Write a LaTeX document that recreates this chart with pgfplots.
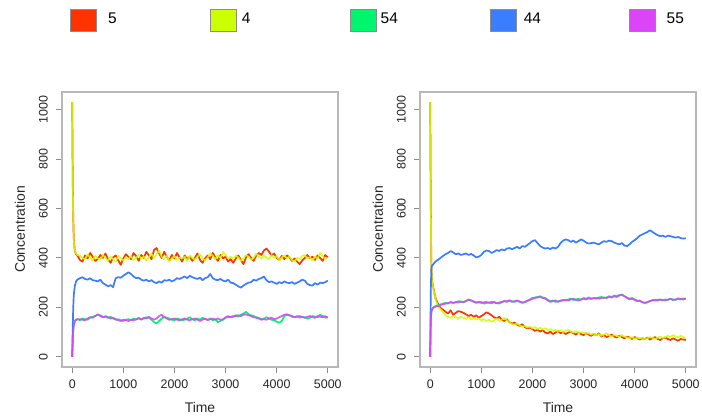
\documentclass[border=0pt]{standalone}
\usepackage{fontspec}
\setmainfont{Liberation Sans}
\usepackage{pgfplots}
\usepackage{pgfplotstable}
\pgfplotsset{compat=1.18}
\definecolor{cR}{HTML}{FF3300}
\definecolor{cY}{HTML}{CCFF00}
\definecolor{cG}{HTML}{00F56E}
\definecolor{cB}{HTML}{3A7DFF}
\definecolor{cM}{HTML}{DA45F8}
\definecolor{boxgray}{HTML}{B8B8B8}
\definecolor{tickgray}{HTML}{8C8C8C}

\pgfplotstableread{
t r y g b m
0 1030 1030 0 0 0
10 720 700 70 120 65
20 560 550 110 200 105
30 480 475 130 250 128
50 430 432 145 285 143
75 415 418 150 305 150
100 410 412 152 312 152
150 392 410 148 318 152
200 385 400 155 322 150
250 410 395 152 315 148
300 398 415 150 312 155
350 420 402 158 318 160
400 405 390 162 310 158
450 388 408 165 308 165
500 395 398 170 305 172
550 412 392 168 312 165
600 400 412 162 298 160
650 418 400 160 292 165
700 395 388 158 285 160
750 380 405 162 290 155
800 402 395 155 282 158
850 410 385 150 318 152
900 390 410 152 322 148
950 372 398 148 320 145
1000 398 390 145 328 150
1050 415 402 150 335 148
1100 404 395 152 342 145
1150 395 408 148 335 150
1200 420 392 155 325 148
1250 408 400 150 318 152
1300 388 412 158 320 155
1350 412 398 152 312 150
1400 400 405 155 308 158
1450 425 390 160 312 155
1500 410 402 158 305 162
1550 395 418 150 310 155
1600 432 400 140 302 150
1650 440 415 135 298 155
1700 418 430 145 305 165
1750 400 405 155 300 170
1800 425 395 162 310 160
1850 405 410 158 308 155
1900 390 385 155 312 150
1950 412 398 150 305 152
2000 398 408 148 310 155
2050 420 392 155 318 150
2100 402 402 152 315 148
2150 385 398 148 320 152
2200 410 405 150 325 155
2250 395 388 155 318 150
2300 405 410 160 328 148
2350 388 400 152 322 152
2400 400 392 148 318 155
2450 418 405 155 315 150
2500 392 415 150 320 145
2550 380 398 158 310 150
2600 398 390 152 318 155
2650 410 402 150 322 148
2700 395 418 155 335 152
2750 420 408 148 318 155
2800 402 395 152 312 150
2850 388 410 140 310 155
2900 412 400 145 315 150
2950 398 425 150 308 152
3000 405 412 158 305 160
3050 385 398 160 312 165
3100 395 405 162 300 160
3150 380 395 165 298 162
3200 398 410 168 292 165
3250 410 402 162 285 168
3300 392 388 170 280 165
3350 375 398 175 288 170
3400 402 412 182 295 172
3450 415 405 172 300 168
3500 400 392 168 302 165
3550 388 400 165 312 160
3600 410 418 160 308 158
3650 420 405 158 315 155
3700 412 398 152 318 150
3750 430 410 155 325 152
3800 438 402 160 310 150
3850 425 395 155 302 155
3900 410 412 150 305 158
3950 418 400 148 300 152
4000 400 408 142 295 155
4050 392 390 138 302 160
4100 408 402 145 298 165
4150 395 410 165 305 170
4200 410 398 170 300 172
4250 402 405 168 298 168
4300 388 392 162 302 165
4350 398 385 160 295 160
4400 385 400 165 300 162
4450 375 395 158 305 165
4500 390 408 162 312 160
4550 400 412 160 308 158
4600 412 398 155 295 162
4650 398 402 158 290 165
4700 405 390 165 288 160
4750 392 405 162 298 158
4800 410 398 160 292 165
4850 400 420 170 300 162
4900 388 408 165 298 160
4950 412 395 158 302 165
5000 402 400 160 308 158
}\leftdata

\pgfplotstableread{
t r y g b m
0 1030 1030 0 0 0
10 650 640 150 250 145
20 400 390 180 350 175
30 320 315 190 368 188
50 290 285 198 372 196
75 265 262 202 378 200
100 240 238 205 385 203
150 215 205 208 392 205
200 198 192 212 400 210
250 190 180 215 408 212
300 182 168 218 415 215
350 175 162 215 420 218
400 188 158 222 428 220
450 170 165 218 422 218
500 178 160 220 415 222
550 185 155 225 418 220
600 182 162 222 412 224
650 178 158 220 415 222
700 172 155 225 418 226
750 165 160 230 412 232
800 170 152 228 416 228
850 162 158 222 410 224
900 168 150 218 402 220
950 158 155 220 405 222
1000 165 148 222 412 218
1050 172 152 215 425 220
1100 180 145 218 430 222
1150 175 150 220 428 218
1200 168 142 216 420 222
1250 160 148 222 425 220
1300 155 155 218 432 216
1350 162 145 215 428 220
1400 150 150 220 435 222
1450 145 158 225 430 226
1500 152 148 222 438 224
1550 140 140 228 440 228
1600 135 132 225 435 222
1650 138 130 222 440 225
1700 130 135 226 445 228
1750 125 128 222 438 224
1800 132 122 218 448 220
1850 120 125 220 445 222
1900 115 118 225 452 228
1950 118 122 232 460 230
2000 112 115 238 468 235
2050 105 120 240 472 238
2100 110 112 242 460 240
2150 102 118 245 448 242
2200 108 110 240 442 238
2250 98 115 238 438 235
2300 95 108 230 440 228
2350 102 112 225 436 222
2400 92 105 228 442 225
2450 98 110 222 438 228
2500 105 102 225 445 222
2550 95 108 228 460 226
2600 100 100 230 470 228
2650 92 105 228 475 230
2700 98 110 232 472 228
2750 102 102 235 465 232
2800 95 98 230 470 235
2850 90 105 232 462 230
2900 98 95 235 468 228
2950 92 100 230 475 232
3000 88 98 238 470 235
3050 95 92 235 462 232
3100 90 96 240 458 236
3150 85 90 236 460 234
3200 92 95 238 462 236
3250 88 88 235 458 238
3300 95 92 240 455 235
3350 82 85 242 462 238
3400 88 90 238 468 240
3450 80 95 240 465 238
3500 85 88 245 470 242
3550 90 82 242 468 240
3600 82 88 248 462 245
3650 78 85 245 458 242
3700 85 80 250 455 248
3750 80 88 252 460 250
3800 75 82 245 450 245
3850 82 78 240 448 238
3900 78 75 235 455 232
3950 72 80 238 465 235
4000 80 72 232 472 230
4050 75 78 228 480 225
4100 70 74 225 490 228
4150 75 78 222 495 220
4200 72 72 218 500 218
4250 78 75 220 505 222
4300 70 80 225 512 226
4350 75 76 230 505 228
4400 80 72 228 498 230
4450 72 78 232 492 228
4500 68 82 230 488 232
4550 75 76 228 490 230
4600 78 80 232 485 228
4650 72 85 230 490 232
4700 68 80 235 488 234
4750 75 88 232 485 230
4800 70 82 230 482 232
4850 65 78 235 485 236
4900 72 85 232 480 234
4950 70 80 236 478 232
5000 68 75 235 480 236
}\rightdata

\pgfplotsset{
  rplot/.style={
    scale only axis, width=276bp, height=275bp,
    xmin=-200, xmax=5200, ymin=-41.2, ymax=1071.2,
    xtick={0,1000,...,5000}, ytick={0,200,...,1000},
    xtick pos=bottom, ytick pos=left,
    tick align=outside, major tick length=6bp,
    axis line style={draw=boxgray, line width=1.2bp},
    tick style={draw=tickgray, line width=0.9bp},
    scaled ticks=false,
    /pgf/number format/assume math mode=true,
    /pgf/number format/set thousands separator={},
    every tick label/.append style={font=\fontsize{12.5}{13}\selectfont, text=black!85},
    xticklabel style={inner sep=0pt, anchor=north, yshift=-7bp},
    yticklabel style={inner sep=0pt, rotate=90, anchor=south, yshift=8bp},
    xlabel={Time}, ylabel={Concentration},
    xlabel style={font=\fontsize{14}{15}\selectfont, text=black!85, at={(axis description cs:0.5,0)}, anchor=center, yshift=-41bp},
    ylabel style={font=\fontsize{14}{15}\selectfont, text=black!85, at={(axis description cs:0,0.5)}, anchor=center, yshift=42bp},
    every axis plot/.append style={no marks, line width=1.7bp, line join=round},
  }
}

\begin{document}
\begin{tikzpicture}
\useasboundingbox (0bp,0bp) rectangle (702bp,419bp);
% legend
\foreach \xx/\c/\tx/\l in {70.7/cR/108/5, 210.3/cY/241.7/4, 350.5/cG/380.5/54, 490/cB/523.7/44, 629.3/cM/666.5/55} {
  \filldraw[fill=\c, draw=black!45, line width=0.5bp] (\xx bp,388bp) rectangle ++(26bp,22bp);
  \node[anchor=base west, inner sep=0pt, font=\fontsize{15.5}{16}\selectfont] at (\tx bp,395bp) {\l};
}
\begin{axis}[rplot, at={(62bp,52bp)}, anchor=south west]
\addplot[cR] table[x=t,y=r]{\leftdata};
\addplot[cY, opacity=0.85] table[x=t,y=y]{\leftdata};
\addplot[cG] table[x=t,y=g]{\leftdata};
\addplot[cB] table[x=t,y=b]{\leftdata};
\addplot[cM, opacity=0.9] table[x=t,y=m]{\leftdata};
\end{axis}
\begin{axis}[rplot, at={(420bp,52bp)}, anchor=south west]
\addplot[cR] table[x=t,y=r]{\rightdata};
\addplot[cY, opacity=0.85] table[x=t,y=y]{\rightdata};
\addplot[cG] table[x=t,y=g]{\rightdata};
\addplot[cB] table[x=t,y=b]{\rightdata};
\addplot[cM, opacity=0.9] table[x=t,y=m]{\rightdata};
\end{axis}
\end{tikzpicture}
\end{document}
